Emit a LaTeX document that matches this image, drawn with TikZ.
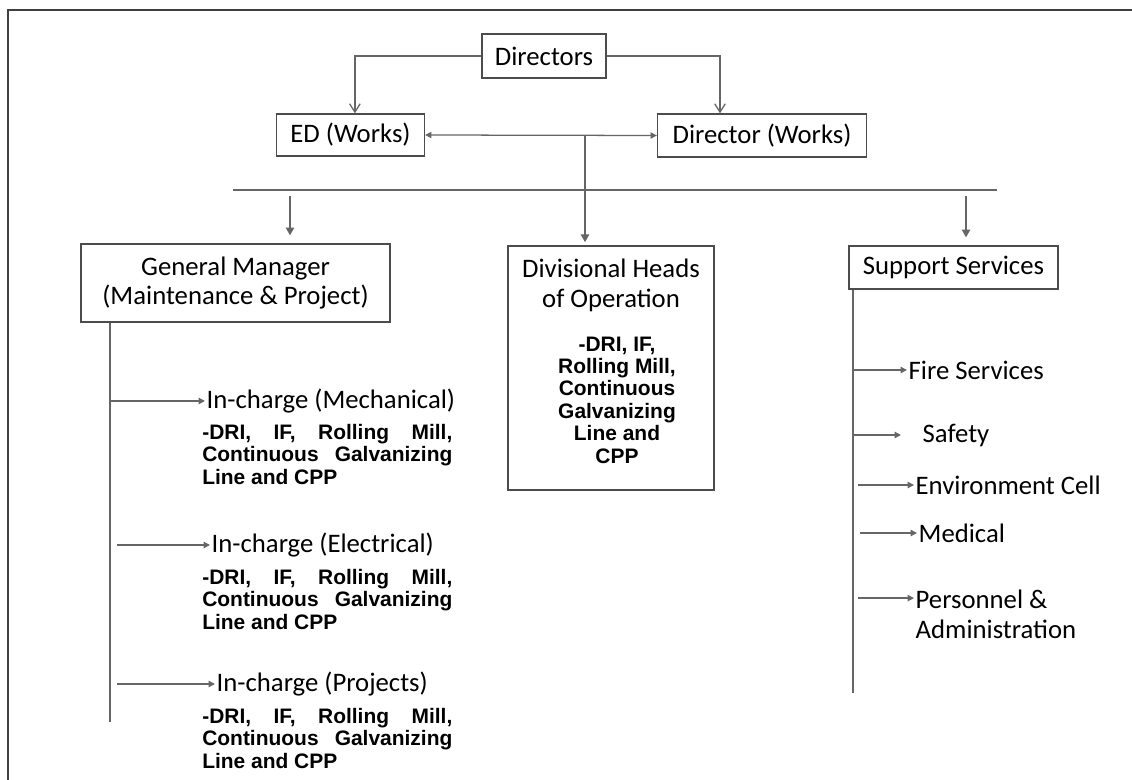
\documentclass[tikz,border=0pt]{standalone}
\usepackage{fontspec}
\setmainfont{Carlito}
\newfontfamily\arialfont{Liberation Sans}
\usepackage{tikz}
\usetikzlibrary{arrows.meta,positioning}

\newcommand\regtext{\fontsize{19}{21.3}\selectfont}
\newcommand\plantlist{\arialfont\bfseries\fontsize{14.9}{15.9}\selectfont}

\begin{document}
\begin{tikzpicture}[
  x=0.025cm, y=-0.025cm,
  box/.style={draw=black!70, line width=0.9pt, font=\regtext, inner sep=2pt},
  item/.style={font=\regtext, inner sep=1pt, anchor=west},
  plants/.style={font=\plantlist, text width=6.25cm, align=justify, inner sep=0pt, anchor=north west},
  link/.style={draw=black!60, line width=0.9pt},
  open/.style={link, -{Straight Barb[length=6pt, width=7.5pt]}},
  down/.style={link, -{Triangle[length=5.5pt, width=6pt]}},
  arrow/.style={link, -{Triangle[length=4.5pt, width=4.5pt]}},
]
\useasboundingbox (0,0) rectangle (1132,780);
% frame
\draw[black!75, line width=1.2pt] (7,10) -- (1132,10);
\draw[black!75, line width=1.2pt] (8,10) -- (8,780);

\node[box, minimum width=3.1cm, minimum height=1.1cm] (dirs) at (544,56) {Directors};
\node[box, minimum width=3.7cm, minimum height=1.05cm] (edw) at (350.5,135) {ED (Works)};
\node[box, minimum width=5.225cm, minimum height=1.075cm] (dirw) at (762,135.5) {Director (Works)};

\node[box, minimum width=7.725cm, minimum height=1.95cm, align=center] (gm) at (235.5,283) {General Manager\\(Maintenance \& Project)};
\node[box, minimum width=5.15cm, minimum height=6.1cm] (div) at (611,368) {};
\node[font=\regtext, align=center] (divhead) at (611,285) {Divisional Heads\\of Operation};
\node[font=\plantlist, align=center, inner sep=0pt] (divlist) at (617,400) {-DRI, IF,\\Rolling Mill,\\Continuous\\Galvanizing\\Line and\\CPP};
\node[box, minimum width=5.225cm, minimum height=1.075cm] (sup) at (953.5,267.5) {Support Services};

\draw[open] (dirs.west) -| ([xshift=0.11cm]edw.north);
\draw[open] (dirs.east) -| ([xshift=-1.05cm]dirw.north);
\draw[arrow, {Triangle[length=4.5pt, width=4.5pt]}-{Triangle[length=4.5pt, width=4.5pt]}] (edw.east) -- (dirw.west);

\coordinate (mid) at (585,136);
\coordinate (barL) at (233,190);
\coordinate (barR) at (997,190);
\draw[link] (barL) -- (barR);
\draw[down, shorten >=0.08cm] (mid) -- (mid |- div.north);

\coordinate (gmtop) at (290,196);
\coordinate (suptop) at (966,196);
\draw[down, shorten >=0.2cm] (gmtop) -- (gmtop |- gm.north);
\draw[down, shorten >=0.2cm] (suptop) -- (suptop |- sup.north);

% maintenance and project branch
\coordinate (gmfoot) at (110,722);
\draw[link] (gm.south -| gmfoot) -- (gmfoot);

\node[item] (mech) at (205,401) {In-charge (Mechanical)};
\node[plants] (mechlist) at (202,424) {-DRI, IF, Rolling Mill,\linebreak Continuous Galvanizing\linebreak Line and CPP};
\node[item] (elec) at (210,545) {In-charge (Electrical)};
\node[plants] (eleclist) at (202,569) {-DRI, IF, Rolling Mill,\linebreak Continuous Galvanizing\linebreak Line and CPP};
\node[item] (proj) at (215,684) {In-charge (Projects)};
\node[plants] (projlist) at (202,708) {-DRI, IF, Rolling Mill,\linebreak Continuous Galvanizing\linebreak Line and CPP};

\draw[arrow] (mech.west -| gmfoot) -- (mech.west);
\draw[arrow, shorten <=0.17cm] (elec.west -| gmfoot) -- (elec.west);
\draw[arrow, shorten <=0.17cm] (proj.west -| gmfoot) -- (proj.west);

% support services branch
\coordinate (supfoot) at (853,693);
\draw[link] (sup.south -| supfoot) -- (supfoot);

\node[item] (fire) at (907,370) {Fire Services};
\node[item] (safe) at (921,435) {Safety};
\node[item] (env) at (914,485) {Environment Cell};
\node[item] (med) at (917,533) {Medical};
\node[item, align=left] (pers) at (914,614.5) {Personnel \&\\Administration};

\draw[arrow] (fire.west -| supfoot) -- (fire.west);
\draw[arrow, shorten >=0.5cm] (safe.west -| supfoot) -- (safe.west);
\draw[arrow, shorten <=0.12cm] (env.west -| supfoot) -- (env.west);
\draw[arrow, shorten <=0.17cm] (med.west -| supfoot) -- (med.west);
\draw[arrow, shorten <=0.12cm] ([yshift=0.41cm]pers.west -| supfoot) -- ([yshift=0.41cm]pers.west);
\end{tikzpicture}
\end{document}
